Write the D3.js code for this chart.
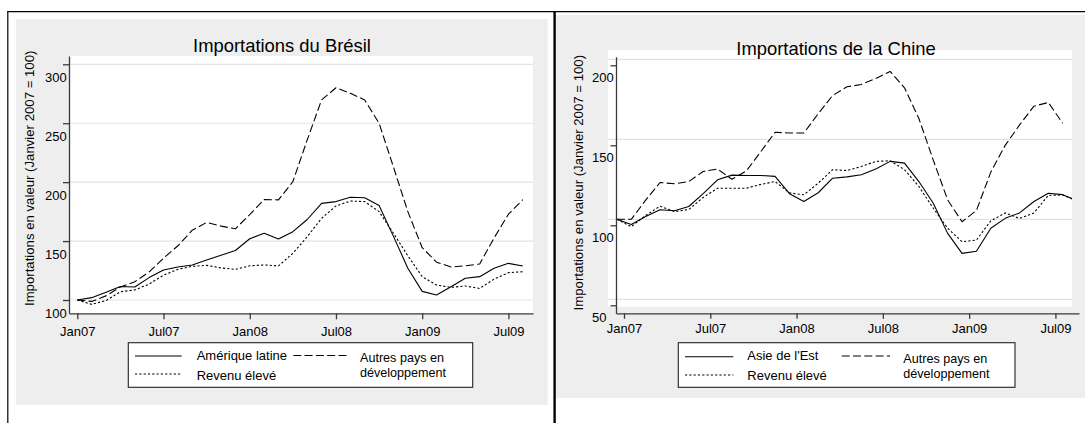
<!DOCTYPE html>
<html>
<head>
<meta charset="utf-8">
<script src="https://cdn.jsdelivr.net/npm/d3@7"></script>
<style>
  body { margin: 0; background: #fff; }
  svg { display: block; }
  text { font-family: "Liberation Sans", Arial, Helvetica, sans-serif; fill: #000; }
</style>
</head>
<body>
<svg id="chart" width="1085" height="423"></svg>
<script>
// Months Jan 2007 .. Sep 2009 (index = position on the x scale)
const months = ["Jan07","Feb07","Mar07","Apr07","May07","Jun07","Jul07","Aug07","Sep07","Oct07","Nov07","Dec07",
                "Jan08","Feb08","Mar08","Apr08","May08","Jun08","Jul08","Aug08","Sep08","Oct08","Nov08","Dec08",
                "Jan09","Feb09","Mar09","Apr09","May09","Jun09","Jul09","Aug09","Sep09"];
const tickMonths = ["Jan07","Jul07","Jan08","Jul08","Jan09","Jul09"];

// Brazil imports, value index (January 2007 = 100)
const brAmeriqueLatine = [100,102,106.5,111.5,111,119,125.5,128,129.7,134,138,142,152,156.6,151.7,158,168.3,182,183.5,187.2,186.7,180.2,154,127,107.3,104.2,111.3,118.4,119.8,126.9,131.1,128.9];
const brRevenuEleve    = [100,96.3,99.5,107,108.5,113.5,121.1,126,128.6,129.4,127.2,126,129,129.8,128.9,139.6,153.7,169.3,179.8,184,183.5,175,156.6,137.5,119.8,112.7,110.7,111.9,109.8,117.7,123.2,124];
const brAutresPays     = [100,98.8,103.5,111,115.5,123.8,135.5,146,159.2,165.8,162.7,160.4,172.5,185.2,185,200.4,235.9,269.8,280.1,275.4,269.7,250,212.8,175,144.4,132.1,128,129,130.6,152.6,172.8,185.1];

// China imports, value index (January 2007 = 100)
const cnAsieEst        = [100,96.7,101.7,106,105.3,108,116,124.7,127.6,127.4,127.4,126.8,116,111.1,116.6,125.7,126.5,127.8,131.4,136.2,135.1,123.6,110,91.2,78.7,80,94.4,100.6,104,111.1,116.3,115.4,111.5];
const cnRevenuEleve    = [100,95.4,102.4,108.2,104.8,106.1,113.7,119.4,119.4,119.4,121.8,123.6,116.5,115.3,122.6,131,130.5,133,136.2,136.6,131,120.5,106.9,94.4,86,87,99,104,100.5,104,115,115.2,111.5];
const cnAutresPays     = [100,100,112,123,122.2,123.6,129.9,131.4,125,130.2,142.2,154.4,153.9,153.9,166,177.4,182.8,184.3,188,192.4,182.2,163,137,112.1,98.5,105.5,129.5,146.2,159,170.7,173,160];

const yTicksBR = [100,150,200,250,300];
const yTicksCN = [50,100,150,200];

const yTitle = "Importations en valeur (Janvier 2007 = 100)";
const labelAutres = ["Autres pays en", "développement"];
const labelRevenu = "Revenu élevé";

const DASH = "8,3.3";
const DOT = "2.2,2.1";

const svg = d3.select("#chart");
svg.append("rect").attr("width", 1085).attr("height", 423).attr("fill", "#fff");

function drawPanel(o) {
  const g = svg.append("g");

  // panel background and plot region
  g.append("rect").attr("x", o.bg[0]).attr("y", o.bg[1])
    .attr("width", o.bg[2] - o.bg[0]).attr("height", o.bg[3] - o.bg[1]).attr("fill", "#eeeeee");
  g.append("rect").attr("x", o.plot[0]).attr("y", o.plot[1])
    .attr("width", o.plot[2] - o.plot[0]).attr("height", o.plot[3] - o.plot[1]).attr("fill", "#fff");

  const x = d3.scaleLinear().domain([0, 31]).range(o.xRange);
  const y = d3.scaleLinear().domain(o.yDomain).range(o.yRange);

  // horizontal grid
  g.append("g").selectAll("line").data(o.yTicks).join("line")
    .attr("x1", o.plot[0]).attr("x2", o.plot[2])
    .attr("y1", d => y(d)).attr("y2", d => y(d))
    .attr("stroke", "#e3e3e3").attr("stroke-width", 1.2);

  // series
  const clipId = "clip-" + o.id;
  g.append("clipPath").attr("id", clipId).append("rect")
    .attr("x", o.plot[0]).attr("y", o.plot[1])
    .attr("width", o.plot[2] - o.plot[0]).attr("height", o.plot[3] - o.plot[1]);
  const line = d3.line().x((d, i) => x(i)).y(d => y(d));
  const lines = g.append("g").attr("clip-path", `url(#${clipId})`);
  o.series.forEach(s => {
    lines.append("path").datum(s.values).attr("d", line)
      .attr("fill", "none").attr("stroke", "#000").attr("stroke-width", 1.1)
      .attr("stroke-dasharray", s.dash).attr("stroke-linejoin", "round");
  });

  // axes (drawn with their own offset relative to the plotted data)
  const [dx, dy] = o.axisShift;
  const xa = d3.scaleLinear()
    .domain([x.invert(o.xAxisSpan[0] - dx), x.invert(o.xAxisSpan[1] - dx)])
    .range(o.xAxisSpan);
  const ya = d3.scaleLinear()
    .domain([y.invert(o.yAxisSpan[0] - dy), y.invert(o.yAxisSpan[1] - dy)])
    .range(o.yAxisSpan);

  const xAxis = g.append("g").attr("transform", `translate(0,${o.axisY})`)
    .call(d3.axisBottom(xa)
      .tickValues(tickMonths.map(m => months.indexOf(m)))
      .tickFormat(d => months[d])
      .tickSize(o.tickLen).tickSizeOuter(0));
  const yAxis = g.append("g").attr("transform", `translate(${o.axisX},0)`)
    .call(d3.axisLeft(ya).tickValues(o.yTicks).tickSize(o.tickLen).tickSizeOuter(0));

  [xAxis, yAxis].forEach(a => {
    a.attr("font-family", null).attr("font-size", null);
    a.selectAll("path, line").attr("stroke", "#3a3a3a").attr("stroke-width", 1.3);
    a.selectAll("text").style("font-size", "13px").attr("fill", "#000");
  });
  xAxis.selectAll(".tick text").attr("y", o.xLabelY).attr("dy", null);
  yAxis.selectAll(".tick text").attr("x", o.yLabelX).attr("y", o.yLabelY).attr("dy", null)
    .attr("text-anchor", o.yLabelAnchor);

  // titles
  g.append("text").attr("x", o.title[1]).attr("y", o.title[2]).attr("text-anchor", "middle")
    .style("font-size", "18.4px").text(o.title[0]);
  g.append("text").attr("transform", `translate(${o.yTitle[0]},${o.yTitle[1]}) rotate(-90)`)
    .attr("text-anchor", "middle").style("font-size", "13.2px").text(yTitle);

  // legend
  const L = o.legend;
  g.append("rect").attr("x", L.box[0]).attr("y", L.box[1])
    .attr("width", L.box[2] - L.box[0]).attr("height", L.box[3] - L.box[1])
    .attr("fill", "#fff").attr("stroke", "#222").attr("stroke-width", 1.1);
  const sample = (x1, x2, yy, dash) => g.append("line")
    .attr("x1", x1).attr("x2", x2).attr("y1", yy).attr("y2", yy)
    .attr("stroke", "#000").attr("stroke-width", 1.1).attr("stroke-dasharray", dash);
  sample(L.s1[0], L.s1[1], L.s1[2], null);
  sample(L.s1[0], L.s1[1], L.s2y, DOT);
  sample(L.s3[0], L.s3[1], L.s3[2], DASH);
  const lt = (tx, ty, str) => g.append("text").attr("x", tx).attr("y", ty).style("font-size", "13px").text(str);
  lt(L.t1[0], L.t1[1], o.mainLabel);
  lt(L.t1[0], L.t2y, labelRevenu);
  // two-line label, slightly smaller so the lines stay clear of each other
  labelAutres.forEach((str, i) => {
    g.append("text").attr("x", L.t3[0]).attr("y", i === 0 ? L.t3[1] : L.t4y)
      .style("font-size", "12.6px").text(str);
  });
}

drawPanel({
  id: "br",
  bg: [16, 19, 547.7, 405],
  plot: [69, 56, 533, 313.3],
  xRange: [77.3, 522.8],
  yDomain: [100, 300], yRange: [300, 64.3],
  yTicks: yTicksBR,
  series: [
    { values: brAmeriqueLatine, dash: null },
    { values: brRevenuEleve, dash: DOT },
    { values: brAutresPays, dash: DASH }
  ],
  axisShift: [0, 0],
  axisX: 69, axisY: 313.3,
  xAxisSpan: [69, 533], yAxisSpan: [313.3, 56],
  tickLen: 6,
  xLabelY: 22.7,
  yLabelX: -2.3, yLabelY: 17, yLabelAnchor: "end",
  title: ["Importations du Brésil", 282, 51.7],
  yTitle: [34, 178.3],
  mainLabel: "Amérique latine",
  legend: {
    box: [128.3, 342.7, 472.7, 387.3],
    s1: [135, 181.7, 356], s2y: 374,
    s3: [293.3, 348, 355.5],
    t1: [196.7, 360], t2y: 379.5,
    t3: [360, 362.2], t4y: 377
  }
});

drawPanel({
  id: "cn",
  bg: [556, 15, 1085, 398],
  plot: [608, 50, 1072, 306.7],
  xRange: [616.9, 1062.7],
  yDomain: [100, 200], yRange: [219.3, 59.3],
  yTicks: yTicksCN,
  series: [
    { values: cnAsieEst, dash: null },
    { values: cnRevenuEleve, dash: DOT },
    { values: cnAutresPays, dash: DASH }
  ],
  axisShift: [7.1, 6],
  axisX: 616, axisY: 313.3,
  xAxisSpan: [616, 1079], yAxisSpan: [313.3, 56.7],
  tickLen: 5.5,
  xLabelY: 19.4,
  yLabelX: -24, yLabelY: 16.5, yLabelAnchor: "start",
  title: ["Importations de la Chine", 836, 54.5],
  yTitle: [583, 182.7],
  mainLabel: "Asie de l'Est",
  legend: {
    box: [678.3, 342.7, 1015, 387.3],
    s1: [685, 733.3, 356.7], s2y: 375,
    s3: [841.7, 890, 356],
    t1: [747.3, 359.8], t2y: 379.6,
    t3: [903.3, 362.8], t4y: 377.6
  }
});

// page frames
const frame = svg.append("g").attr("stroke", "#000").attr("fill", "none");
frame.append("line").attr("x1", 7.8).attr("x2", 7.8).attr("y1", 11.2).attr("y2", 423).attr("stroke-width", 1.2);
frame.append("line").attr("x1", 7.2).attr("x2", 1085).attr("y1", 11.7).attr("y2", 11.7).attr("stroke-width", 1.3);
frame.append("line").attr("x1", 554.6).attr("x2", 554.6).attr("y1", 11.2).attr("y2", 423).attr("stroke-width", 2.4);
</script>
</body>
</html>
